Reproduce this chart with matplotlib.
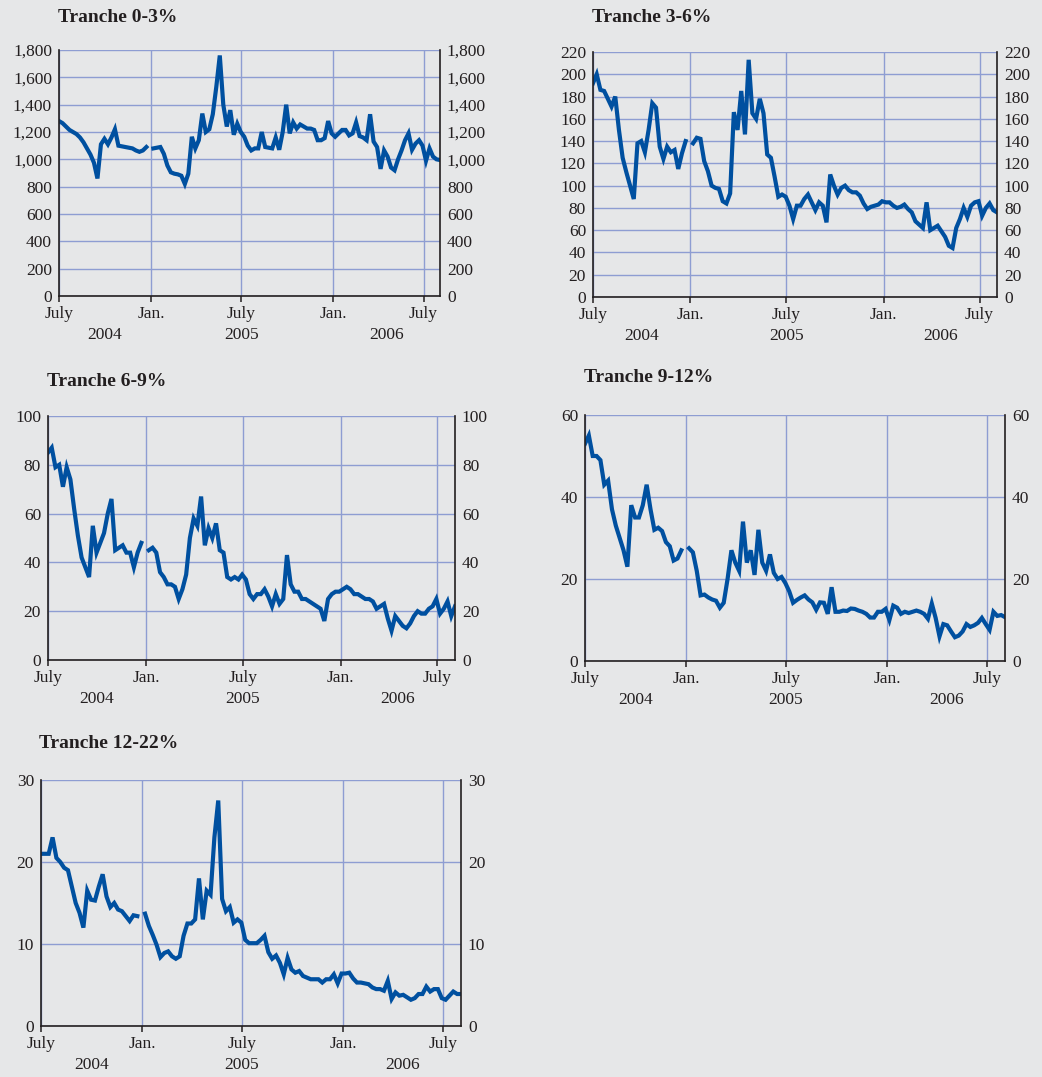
import numpy as np
import pandas as pd
import matplotlib
matplotlib.use("Agg")
import matplotlib.pyplot as plt
from matplotlib.ticker import FuncFormatter

nan = np.nan

# ---------------- data (weekly observations, bp) ----------------
dates = pd.date_range("2004-07-01", periods=110, freq="7D")

tranche_0_3 = [1280, 1265, 1240, 1215, 1200, 1185, 1160, 1125, 1080, 1035,
               975, 860, 1110, 1150, 1110, 1160, 1220, 1100, 1095, 1090,
               1085, 1080, 1065, 1055, 1065, 1090, nan, 1080, 1085, 1090,
               1040, 955, 905, 895, 890, 880, 820, 895, 1165, 1080,
               1140, 1335, 1200, 1220, 1330, 1530, 1760, 1400, 1240, 1360,
               1180, 1260, 1200, 1165, 1100, 1065, 1080, 1080, 1200, 1090,
               1085, 1080, 1160, 1070, 1200, 1400, 1190, 1270, 1225, 1255,
               1240, 1225, 1225, 1215, 1140, 1140, 1155, 1280, 1190, 1165,
               1190, 1215, 1215, 1175, 1190, 1270, 1170, 1160, 1140, 1330,
               1130, 1090, 930, 1065, 1020, 940, 920, 1000, 1065, 1140,
               1190, 1070, 1115, 1140, 1100, 990, 1080, 1020, 1000, 995]

tranche_3_6 = [192, 200, 186, 185, 178, 171, 180, 150, 125, 112,
               100, 88, 138, 140, 130, 150, 174, 170, 135, 124,
               135, 130, 132, 115, 129, 140, nan, 138, 143, 142,
               122, 113, 100, 98, 97, 86, 84, 93, 166, 150,
               185, 146, 213, 165, 160, 178, 165, 128, 125, 108,
               90, 92, 90, 82, 70, 82, 82, 88, 92, 85,
               78, 85, 82, 67, 110, 100, 92, 98, 100, 96,
               94, 94, 91, 84, 79, 81, 82, 83, 86, 85,
               85, 82, 80, 81, 83, 79, 76, 68, 65, 62,
               85, 60, 62, 64, 59, 54, 46, 44, 62, 70,
               80, 72, 82, 85, 86, 73, 80, 84, 78, 76]

tranche_6_9 = [85, 87, 79, 80, 71, 79, 74, 62, 51, 42,
               38, 34, 55, 44, 48, 52, 60, 66, 45, 46,
               47, 44, 44, 38, 44, 48, nan, 45, 46, 44,
               36, 34, 31, 31, 30, 25, 29, 35, 50, 58,
               55, 67, 47, 54, 50, 56, 45, 44, 34, 33,
               34, 33, 35, 33, 27, 25, 27, 27, 29, 26,
               22, 27, 23, 25, 43, 31, 28, 28, 25, 25,
               24, 23, 22, 21, 16, 25, 27, 28, 28, 29,
               30, 29, 27, 27, 26, 25, 25, 24, 21, 22,
               23, 17, 12, 18, 16, 14, 13, 15, 18, 20,
               19, 19, 21, 22, 25, 19, 21, 24, 18, 22]

tranche_9_12 = [53, 55, 50, 50, 49, 43, 44, 37, 33, 30,
                27, 23, 38, 35, 35, 38, 43, 37, 32, 32.5,
                31.7, 29, 28, 24.5, 25, 27, nan, 27.5, 26.5, 22,
                16, 16.2, 15.5, 15, 14.7, 13, 14.2, 20, 27, 24,
                22, 34, 24, 27, 21, 32, 24, 22, 26, 21.5,
                20, 20.5, 19, 17, 14.2, 14.9, 15.5, 16, 15, 14.3,
                12.5, 14.3, 14.2, 11.5, 18, 12, 12, 12.3, 12.2, 12.8,
                12.7, 12.3, 12, 11.5, 10.6, 10.6, 12, 12, 12.7, 10,
                13.5, 13, 11.5, 12, 11.7, 12, 12.3, 12, 11.5, 10.3,
                14, 10.5, 6, 9, 8.7, 7.2, 5.8, 6.2, 7.2, 9,
                8.3, 8.7, 9.3, 10.5, 9, 7.6, 12, 11, 11.2, 10.7]

tranche_12_22 = [21, 21, 21, 23, 20.5, 20, 19.3, 19, 17, 15,
                 13.8, 12, 16.5, 15.4, 15.3, 17, 18.5, 15.8, 14.5, 15,
                 14.2, 14, 13.4, 12.8, 13.5, 13.4, nan, 13.7, 12.2, 11.1,
                 9.9, 8.4, 8.9, 9.1, 8.5, 8.2, 8.5, 11, 12.5, 12.5,
                 13, 18, 13, 16.5, 16, 23, 27.5, 15.5, 14, 14.5,
                 12.6, 13, 12.6, 10.5, 10.1, 10.1, 10.1, 10.5, 11, 9,
                 8.2, 8.6, 7.7, 6.3, 8.3, 6.9, 6.5, 6.7, 6.1, 5.9,
                 5.7, 5.7, 5.7, 5.3, 5.7, 5.7, 6.3, 5.2, 6.4, 6.4,
                 6.5, 5.8, 5.3, 5.3, 5.2, 5.1, 4.7, 4.5, 4.5, 4.3,
                 5.5, 3.3, 4.1, 3.7, 3.8, 3.5, 3.2, 3.4, 3.9, 3.9,
                 4.8, 4.2, 4.5, 4.5, 3.4, 3.2, 3.7, 4.2, 3.9, 3.9]

titles = ["Tranche 0-3%", "Tranche 3-6%", "Tranche 6-9%", "Tranche 9-12%", "Tranche 12-22%"]
series = [tranche_0_3, tranche_3_6, tranche_6_9, tranche_9_12, tranche_12_22]
y_max = [1800, 220, 100, 60, 30]
y_step = [200, 20, 20, 20, 10]

month_ticks = ["2004-07-01", "2005-01-01", "2005-07-01", "2006-01-01", "2006-07-01"]
month_labels = ["July", "Jan.", "July", "Jan.", "July"]
year_labels = ["2004", "2005", "2006"]

# ---------------- style / layout ----------------
W, H = 1042, 1077
BG = "#E6E7E8"
GRID = "#8E9DD2"
LINE = "#0050A0"
TEXT = "#231F20"
plt.rcParams["font.family"] = ["Liberation Serif", "DejaVu Serif"]

# axes boxes in pixels: left, top, right, bottom ; title position
boxes = [(59, 50, 440, 296), (593, 52, 997, 297), (48, 416, 455, 660),
         (585, 415, 1005, 661), (41, 780, 461, 1026)]
title_pos = [(58, 17), (592, 17), (47, 382), (584, 378), (39, 744)]

fig = plt.figure(figsize=(W / 100, H / 100), dpi=100, facecolor=BG)

x0 = pd.Timestamp("2004-07-01")
x1 = pd.Timestamp("2006-08-03")
tick_dates = pd.to_datetime(month_ticks)
year_pos = [tick_dates[0] + (tick_dates[1] - tick_dates[0]) / 2,
            tick_dates[2],
            tick_dates[3] + (x1 - tick_dates[3]) / 2]

fmt = FuncFormatter(lambda v, p: f"{v:,.0f}")

for k in range(5):
    l, t, r, b = boxes[k]
    ax = fig.add_axes([l / W, 1 - b / H, (r - l) / W, (b - t) / H])
    ax.set_facecolor(BG)
    ax.plot(dates, series[k], color=LINE, lw=3.0, solid_joinstyle="miter")
    ax.set_xlim(x0, x1)
    ax.set_ylim(0, y_max[k])
    ax.set_yticks(np.arange(0, y_max[k] + 1, y_step[k]))
    ax.yaxis.set_major_formatter(fmt)
    ax.set_xticks(tick_dates)
    ax.set_xticklabels(month_labels)
    ax.set_axisbelow(True)
    ax.grid(True, color=GRID, lw=1.0)
    for s in ["left", "right", "bottom"]:
        ax.spines[s].set_color(TEXT)
        ax.spines[s].set_linewidth(1.2)
    ax.spines["top"].set_visible(False)
    ax.tick_params(axis="y", length=0, labelleft=True, labelright=True,
                   pad=5, labelsize=12.5, labelcolor=TEXT)
    ax.tick_params(axis="x", length=4, width=1.1, direction="out", pad=3,
                   labelsize=12.5, labelcolor=TEXT, color=TEXT)
    for yl, xp in zip(year_labels, year_pos):
        ax.annotate(yl, xy=(xp, 0), xycoords=("data", "axes fraction"),
                    xytext=(0, -28), textcoords="offset points",
                    ha="center", va="center", fontsize=12.5, color=TEXT)
    tx, ty = title_pos[k]
    fig.text(tx / W, 1 - ty / H, titles[k], fontsize=14, fontweight="bold",
             color=TEXT, ha="left", va="center")

fig.savefig("out.png", dpi=100, facecolor=BG)
